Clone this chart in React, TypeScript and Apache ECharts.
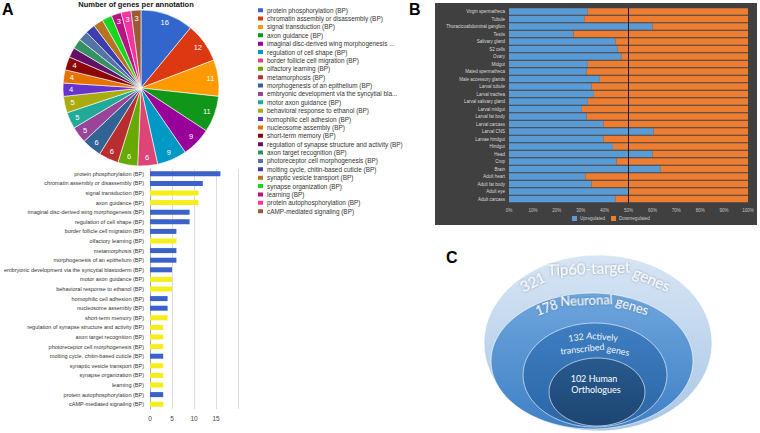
import React, { useEffect, useRef } from 'react';
import * as echarts from 'echarts';

// ---------- Panel A data ----------
const annotations = [
  'protein phosphorylation (BP)',
  'chromatin assembly or disassembly (BP)',
  'signal transduction (BP)',
  'axon guidance (BP)',
  'imaginal disc-derived wing morphogenesis (BP)',
  'regulation of cell shape (BP)',
  'border follicle cell migration (BP)',
  'olfactory learning (BP)',
  'metamorphosis (BP)',
  'morphogenesis of an epithelium (BP)',
  'embryonic development via the syncytial blastoderm (BP)',
  'motor axon guidance (BP)',
  'behavioral response to ethanol (BP)',
  'homophilic cell adhesion (BP)',
  'nucleosome assembly (BP)',
  'short-term memory (BP)',
  'regulation of synapse structure and activity (BP)',
  'axon target recognition (BP)',
  'photoreceptor cell morphogenesis (BP)',
  'molting cycle, chitin-based cuticle (BP)',
  'synaptic vesicle transport (BP)',
  'synapse organization (BP)',
  'learning (BP)',
  'protein autophosphorylation (BP)',
  'cAMP-mediated signaling (BP)',
];
const geneCounts = [16, 12, 11, 11, 9, 9, 6, 6, 6, 6, 5, 5, 5, 4, 4, 4, 3, 3, 3, 3, 3, 3, 3, 3, 3];
const neuronalFlag = [0, 0, 1, 1, 0, 0, 0, 1, 0, 0, 0, 1, 1, 0, 0, 1, 1, 1, 1, 0, 1, 1, 1, 0, 1];
const pieLabelShown = [1, 1, 1, 1, 1, 1, 1, 1, 1, 1, 1, 1, 1, 1, 1, 1, 0, 0, 0, 0, 0, 0, 1, 1, 1];
const legendShortNames: Record<string, string> = {
  'imaginal disc-derived wing morphogenesis (BP)': 'imaginal disc-derived wing morphogenesis ...',
  'embryonic development via the syncytial blastoderm (BP)': 'embryonic development via the syncytial bla...',
};
const countTicks = [0, 5, 10, 15];

// ---------- Panel B data ----------
const tissues = [
  'Virgin spermatheca', 'Tubule', 'Thoracicoabdominal ganglion', 'Testis', 'Salivary gland', 'S2 cells',
  'Ovary', 'Midgut', 'Mated spermatheca', 'Male accessory glands', 'Larval tubule', 'Larval trachea',
  'Larval salivary gland', 'Larval midgut', 'Larval fat body', 'Larval carcass', 'Larval CNS',
  'Larvae hindgut', 'Hindgut', 'Head', 'Crop', 'Brain', 'Adult heart', 'Adult fat body', 'Adult eye',
  'Adult carcass',
];
const upregulated = [33, 31.5, 60, 27, 44.5, 45.5, 47, 33, 32.5, 38, 34.5, 35.5, 33, 30.5, 32.5, 39.5, 60.5, 39.5, 43.5, 60, 45, 63.5, 32, 34.5, 50, 44.5];
const downregulated = [67, 68.5, 40, 73, 55.5, 54.5, 53, 67, 67.5, 62, 65.5, 64.5, 67, 69.5, 67.5, 60.5, 39.5, 60.5, 56.5, 40, 55, 36.5, 68, 65.5, 50, 55.5];
const regulationNames = ['Upregulated', 'Downregulated'];

// ---------- Panel C data ----------
const funnelLabels = ['321 Tip60-target genes', '178 Neuronal genes', '132 Actively transcribed genes', '102 Human Orthologues'];

const pieColors = [
  '#3366cc', '#dc3912', '#ff9900', '#109618', '#990099', '#0099c6', '#dd4477', '#66aa00', '#b82e2e',
  '#316395', '#994499', '#22aa99', '#aaaa11', '#6633cc', '#e67300', '#8b0707', '#651067', '#329262',
  '#5574a6', '#3b3eac', '#b77322', '#16d620', '#b91383', '#f4359e', '#9c5935',
];

let measureCtx: CanvasRenderingContext2D | null = null;
function measure(text: string, font: string): number {
  if (!measureCtx) measureCtx = document.createElement('canvas').getContext('2d');
  if (!measureCtx) return text.length * 6;
  measureCtx.font = font;
  return measureCtx.measureText(text).width;
}

function arcWords(words: string[], cx: number, cy: number, rx: number, ry: number, fontSize: number, style: any) {
  const family = 'Lato, "Open Sans", sans-serif';
  const font = `${fontSize}px ${family}`;
  const space = measure(' ', font);
  const widths = words.map((w) => measure(w, font));
  const total = widths.reduce((a, b) => a + b, 0) + space * (words.length - 1);
  const speed = (t: number) => Math.hypot(rx * Math.cos(t), ry * Math.sin(t));
  const tAt = (s: number) => {
    const dir = s < 0 ? -1 : 1;
    let t = 0;
    let acc = 0;
    const dt = 0.002;
    while (acc < Math.abs(s) && t < Math.PI) {
      acc += speed(t) * dt;
      t += dt;
    }
    return t * dir;
  };
  let s = -total / 2;
  return words.map((w, i) => {
    const mid = s + widths[i] / 2;
    s += widths[i] + space;
    const t = tAt(mid);
    const x = cx + rx * Math.sin(t);
    const y = cy - ry * Math.cos(t);
    const ang = Math.atan2(ry * Math.sin(t), rx * Math.cos(t));
    return {
      type: 'text',
      x,
      y,
      rotation: -ang,
      z: 20,
      style: {
        text: w,
        fontSize,
        fontFamily: family,
        align: 'center',
        verticalAlign: 'middle',
        ...style,
      },
    };
  });
}

export default function App() {
  const ref = useRef<HTMLDivElement>(null);

  useEffect(() => {
    if (!ref.current) return;
    const chart = echarts.init(ref.current, undefined, { renderer: 'svg' });

    const pieData = annotations.map((name, i) => ({
      name,
      value: geneCounts[i],
      itemStyle: { color: pieColors[i] },
    }));
    const pieLabelData = annotations.map((name, i) => ({
      name,
      value: geneCounts[i],
      label: { show: pieLabelShown[i] === 1 },
    }));

    const [outerT, neuronT, activeT, humanT] = funnelLabels;
    const outerWords = outerT.split(' ');
    const neuronWords = neuronT.split(' ');
    const activeWords = activeT.split(' ');
    const humanWords = humanT.split(' ');

    const whiteText = { fill: '#ffffff', textShadowColor: 'rgba(40,60,90,0.6)', textShadowBlur: 2 };

    const graphic: any[] = [
      { type: 'text', left: 2, top: 1, style: { text: 'A', fontSize: 16, fontWeight: 'bold', fill: '#000', fontFamily: 'Liberation Sans, Arial, sans-serif' } },
      { type: 'text', left: 409, top: 1, style: { text: 'B', fontSize: 16, fontWeight: 'bold', fill: '#000', fontFamily: 'Liberation Sans, Arial, sans-serif' } },
      { type: 'text', left: 446, top: 249, style: { text: 'C', fontSize: 16, fontWeight: 'bold', fill: '#000', fontFamily: 'Liberation Sans, Arial, sans-serif' } },
      { type: 'rect', z: -10, shape: { x: 435, y: 3, width: 322, height: 222 }, style: { fill: '#404040' } },
      {
        type: 'ellipse', z: 10, shape: { cx: 598, cy: 343, rx: 114, ry: 88 },
        style: {
          fill: new echarts.graphic.LinearGradient(0, 0, 0, 1, [
            { offset: 0, color: '#d7e5f4' }, { offset: 1, color: '#a9c6e6' },
          ]),
          stroke: 'rgba(255,255,255,0.7)', lineWidth: 1,
        },
      },
      {
        type: 'ellipse', z: 11, shape: { cx: 592, cy: 361, rx: 101, ry: 68 },
        style: {
          fill: new echarts.graphic.LinearGradient(0, 0, 0, 1, [
            { offset: 0, color: '#6ea5dd' }, { offset: 1, color: '#3f80c5' },
          ]),
          stroke: 'rgba(255,255,255,0.6)', lineWidth: 1,
        },
      },
      {
        type: 'ellipse', z: 12, shape: { cx: 595, cy: 375, rx: 72, ry: 52 },
        style: {
          fill: new echarts.graphic.LinearGradient(0, 0, 0, 1, [
            { offset: 0, color: '#3e7ec1' }, { offset: 1, color: '#2b66a6' },
          ]),
          stroke: 'rgba(255,255,255,0.6)', lineWidth: 1,
        },
      },
      {
        type: 'ellipse', z: 13, shape: { cx: 597, cy: 392, rx: 48, ry: 34 },
        style: {
          fill: new echarts.graphic.LinearGradient(0, 0, 0, 1, [
            { offset: 0, color: '#285a8f' }, { offset: 1, color: '#1c4571' },
          ]),
          stroke: 'rgba(255,255,255,0.6)', lineWidth: 1,
        },
      },
      ...arcWords(outerWords, 595, 330, 100, 62, 15, whiteText),
      ...arcWords(neuronWords, 592, 342, 80, 42, 13, whiteText),
      ...arcWords(activeWords.slice(0, 2), 593, 366, 60, 30, 9, { fill: '#f2f6fb' }),
      ...arcWords(activeWords.slice(2), 595, 380, 62, 32, 9, { fill: '#f2f6fb' }),
      {
        type: 'text', x: 594, y: 378, z: 20,
        style: { text: humanWords.slice(0, 2).join(' '), fontSize: 9, fontFamily: 'Lato, sans-serif', fill: '#ffffff', align: 'center', verticalAlign: 'middle' },
      },
      {
        type: 'text', x: 596, y: 389, z: 20,
        style: { text: humanWords.slice(2).join(' '), fontSize: 9, fontFamily: 'Lato, sans-serif', fill: '#ffffff', align: 'center', verticalAlign: 'middle' },
      },
    ];

    const option: any = {
      animation: false,
      backgroundColor: '#ffffff',
      textStyle: { fontFamily: 'Liberation Sans, Arial, sans-serif' },
      title: {
        text: 'Number of genes per annotation',
        left: 136,
        textAlign: 'center',
        top: 0,
        padding: 0,
        textStyle: { fontSize: 7.5, fontWeight: 'bold', color: '#111' },
      },
      legend: [
        {
          data: annotations,
          orient: 'vertical',
          left: 256,
          top: 6,
          padding: 0,
          itemGap: 0,
          itemWidth: 7,
          itemHeight: 6,
          icon: 'rect',
          selectedMode: false,
          formatter: (name: string) => legendShortNames[name] || name,
          textStyle: { fontSize: 6.4, color: '#333', lineHeight: 8.375, padding: [0, 0, 0, -2] },
        },
        {
          data: regulationNames,
          orient: 'horizontal',
          left: 572,
          top: 216,
          padding: 0,
          itemGap: 6,
          itemWidth: 5,
          itemHeight: 5,
          icon: 'rect',
          selectedMode: false,
          textStyle: { fontSize: 4.6, color: '#c8c8c8', padding: [0, 0, 0, -2] },
        },
      ],
      grid: [
        { left: 150, right: 522, top: 169, bottom: 24 },
        { left: 509, right: 12, top: 7.75, bottom: 230.25 },
      ],
      xAxis: [
        {
          gridIndex: 0, type: 'value', min: 0, max: 20, interval: 5,
          axisLabel: {
            fontSize: 6.5, color: '#444', margin: 6,
            formatter: (v: number) => (countTicks.indexOf(v) >= 0 ? String(v) : ''),
          },
          splitLine: { lineStyle: { color: '#d6d6d6', width: 0.8 } },
          axisLine: { show: false }, axisTick: { show: false },
        },
        {
          gridIndex: 1, type: 'value', min: 0, max: 100, interval: 10,
          axisLabel: { fontSize: 4.5, color: '#c0c0c0', formatter: '{value}%', margin: 5 },
          splitLine: { show: false }, axisLine: { show: false }, axisTick: { show: false },
        },
      ],
      yAxis: [
        {
          gridIndex: 0, type: 'category', data: annotations, inverse: true,
          axisLabel: { fontSize: 5.5, color: '#333', margin: 6, interval: 0 },
          axisLine: { show: true, lineStyle: { color: '#9a9a9a', width: 0.8 } },
          axisTick: { show: false },
        },
        {
          gridIndex: 1, type: 'category', data: tissues, inverse: true,
          axisLabel: { fontSize: 4.5, color: '#d9d9d9', margin: 4, interval: 0 },
          axisLine: { show: false }, axisTick: { show: false },
        },
      ],
      series: [
        {
          type: 'pie',
          name: 'genes',
          center: [141, 88],
          radius: [0, 78],
          startAngle: 90,
          clockwise: true,
          data: pieData,
          label: { show: false },
          labelLine: { show: false },
          itemStyle: { borderColor: '#ffffff', borderWidth: 0.6 },
          silent: true,
        },
        {
          type: 'pie',
          name: 'genesLabels',
          center: [141, 88],
          radius: [56, 78],
          startAngle: 90,
          clockwise: true,
          data: pieLabelData,
          itemStyle: { color: 'rgba(0,0,0,0)' },
          label: { show: true, position: 'inside', formatter: '{c}', color: '#ffffff', fontSize: 7.5 },
          labelLine: { show: false },
          legendHoverLink: false,
          silent: true,
          z: 3,
        },
        {
          type: 'bar',
          name: 'count',
          xAxisIndex: 0,
          yAxisIndex: 0,
          barWidth: 5,
          data: geneCounts.map((v, i) => ({
            value: v,
            itemStyle: { color: neuronalFlag[i] ? '#f5ee1b' : '#3a62c9' },
          })),
        },
        {
          type: 'bar',
          name: regulationNames[0],
          xAxisIndex: 1,
          yAxisIndex: 1,
          stack: 'reg',
          barCategoryGap: '12%',
          itemStyle: { color: '#5b9bd5' },
          data: upregulated,
          markLine: {
            silent: true,
            symbol: 'none',
            label: { show: false },
            lineStyle: { color: '#1a1a1a', width: 1, type: 'solid' },
            data: [{ xAxis: 50 }],
          },
        },
        {
          type: 'bar',
          name: regulationNames[1],
          xAxisIndex: 1,
          yAxisIndex: 1,
          stack: 'reg',
          barCategoryGap: '12%',
          itemStyle: { color: '#ed7d31' },
          data: downregulated,
        },
      ],
      graphic,
    };

    chart.setOption(option);
    return () => chart.dispose();
  }, []);

  return (
    <div
      ref={ref}
      style={{ position: 'absolute', left: 0, top: 0, width: 760, height: 433, background: '#fff' }}
    />
  );
}
